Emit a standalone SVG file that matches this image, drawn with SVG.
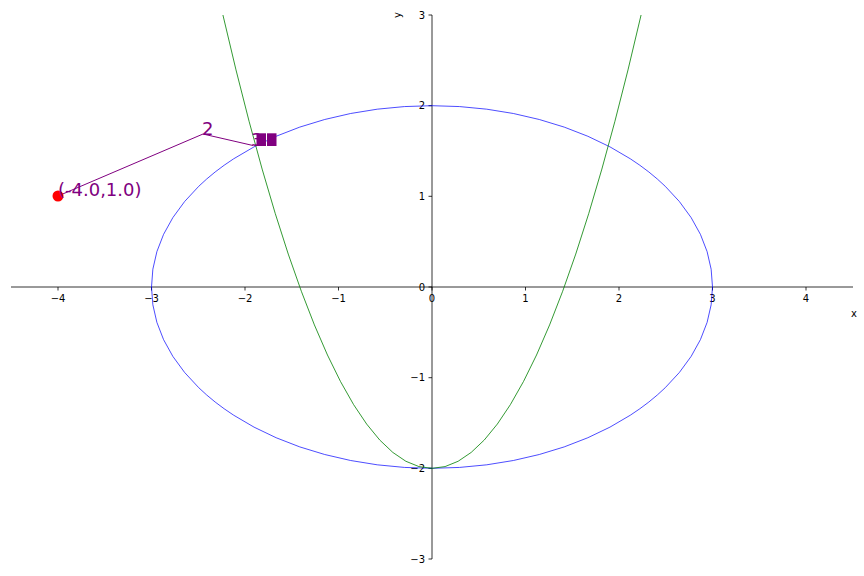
<svg xmlns="http://www.w3.org/2000/svg" width="864" height="576" viewBox="0 0 864 576">
<style>
.ax{stroke:#000;stroke-width:0.8;fill:none}
.tk{font-family:"DejaVu Sans",sans-serif;font-size:10px;fill:#000}
.xt{text-anchor:middle}
.yt{text-anchor:end}
.ann{font-family:"DejaVu Sans",sans-serif;font-size:18px;fill:#800080}
</style>
<rect width="864" height="576" fill="#fff"/>
<g id="axes">
<line class="ax" x1="11" y1="287" x2="853" y2="287"/>
<line class="ax" x1="432" y1="15" x2="432" y2="559"/>
<path class="ax" d="M58,287v3.5M151.5,287v3.5M245,287v3.5M338.5,287v3.5M432,287v3.5M525.5,287v3.5M619,287v3.5M712.5,287v3.5M806,287v3.5"/>
<path class="ax" d="M432,15h-3.5M432,105.7h-3.5M432,196.3h-3.5M432,287h-3.5M432,377.7h-3.5M432,468.3h-3.5M432,559h-3.5"/>
<g class="tk xt">
<text x="58" y="301.5">−4</text>
<text x="151.5" y="301.5">−3</text>
<text x="245" y="301.5">−2</text>
<text x="338.5" y="301.5">−1</text>
<text x="432" y="301.5">0</text>
<text x="525.5" y="301.5">1</text>
<text x="619" y="301.5">2</text>
<text x="712.5" y="301.5">3</text>
<text x="806" y="301.5">4</text>
</g>
<g class="tk yt">
<text x="425" y="18.6">3</text>
<text x="425" y="109.3">2</text>
<text x="425" y="199.9">1</text>
<text x="425" y="290.6">0</text>
<text x="425" y="381.3">−1</text>
<text x="425" y="471.9">−2</text>
<text x="425" y="562.6">−3</text>
</g>
<text class="tk" x="851" y="316.5">x</text>
<text class="tk" transform="translate(401,15) rotate(-90)" text-anchor="middle">y</text>
</g>
<g id="ellipse">
<ellipse cx="432" cy="287" rx="280.5" ry="181.3" fill="none" stroke="#0000ff" stroke-width="0.7"/>
</g>
<g id="parabola">
<path d="M222.93,15 Q432,921.7 641.07,15" fill="none" stroke="#008000" stroke-width="0.8"/>
</g>
<g id="connectors">
<polyline points="58,196 203,134 253,145.5" fill="none" stroke="#800080" stroke-width="1"/>
</g>
<g id="point">
<circle cx="58" cy="196" r="5.5" fill="#ff0000"/>
<text class="ann" x="58" y="195.5">(-4.0,1.0)</text>
</g>
<g id="label2">
<text class="ann" x="202" y="134.5">2</text>
</g>
<g id="label3">
<text class="ann" x="251" y="146">3</text>
<rect x="256.5" y="133.3" width="9.5" height="12.7" fill="#800080"/>
<rect x="267" y="133.3" width="9.5" height="12.7" fill="#800080"/>
</g>
</svg>
